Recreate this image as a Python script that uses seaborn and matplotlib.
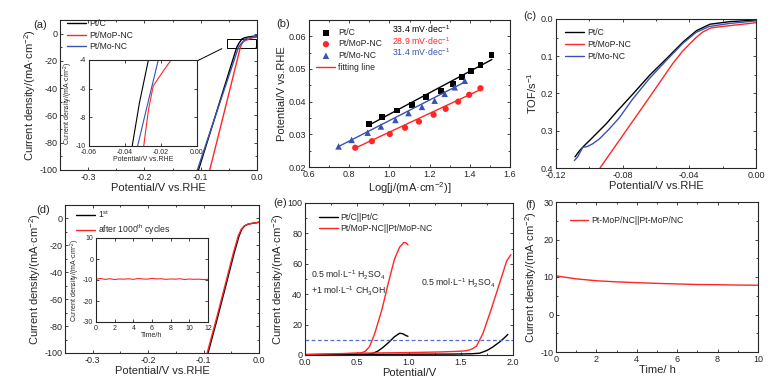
import numpy as np
import pandas as pd
import seaborn as sns
import matplotlib.pyplot as plt
from matplotlib.ticker import MultipleLocator
from matplotlib.patches import Rectangle

# ---- colours / labels
RED = "#ff2626"
BLUE = "#3a53b0"
CD = "Current density/(mA·cm$^{-2}$)"
RHE = "Potential/V vs.RHE"

# ---- (a) HER polarisation curves (also used for the inset)
a_ptc_x = [-0.104, -0.09, -0.07, -0.05, -0.036, -0.032, -0.027, -0.022, -0.015, -0.008, 0.0]
a_ptc_y = [-100, -81.5, -55, -28.5, -10, -7, -4, -3, -2.4, -2.0, -1.6]
a_mop_x = [-0.084, -0.07, -0.05, -0.035, -0.0296, -0.027, -0.0243, -0.0178, -0.0144, -0.008, 0.0]
a_mop_y = [-100, -77, -44, -19, -10, -7.5, -5.8, -4.6, -4, -3, -2.5]
a_mo_x = [-0.106, -0.09, -0.07, -0.05, -0.033, -0.0273, -0.0215, -0.016, -0.01, -0.005, 0.0]
a_mo_y = [-100, -80.3, -55.6, -31, -10, -7, -4, -3.2, -2.7, -2.3, -2.0]

# ---- (b) Tafel plots
b_ptc_x = [0.897, 0.963, 1.038, 1.112, 1.18, 1.255, 1.317, 1.363, 1.408, 1.453, 1.508]
b_ptc_y = [0.0332, 0.0353, 0.0373, 0.0391, 0.0414, 0.0434, 0.0454, 0.0475, 0.0494, 0.0513, 0.0544]
b_mop_x = [0.83, 0.913, 1.002, 1.078, 1.147, 1.22, 1.28, 1.342, 1.397, 1.453]
b_mop_y = [0.0259, 0.0279, 0.0301, 0.032, 0.0339, 0.036, 0.0378, 0.04, 0.0421, 0.0441]
b_mo_x = [0.747, 0.812, 0.892, 0.958, 1.03, 1.095, 1.162, 1.225, 1.275, 1.325, 1.375]
b_mo_y = [0.0263, 0.0283, 0.0305, 0.0324, 0.0344, 0.0365, 0.0384, 0.0403, 0.0424, 0.0444, 0.0464]
fit_ptc_x, fit_ptc_y = [0.895, 1.51], [0.0327, 0.0529]
fit_mop_x, fit_mop_y = [0.83, 1.45], [0.0258, 0.0436]
fit_mo_x, fit_mo_y = [0.745, 1.375], [0.0262, 0.0460]
tafel_slopes = ["33.4 mV·dec$^{-1}$", "28.9 mV·dec$^{-1}$", "31.4 mV·dec$^{-1}$"]

# ---- (c) TOF
c_ptc_x = [-0.1086, -0.1056, -0.1026, -0.0996, -0.0956, -0.0896, -0.0836, -0.0736, -0.0636,
           -0.0536, -0.0436, -0.0356, -0.0276, -0.0156, 0.0]
c_ptc_y = [0.37, 0.352, 0.338, 0.325, 0.307, 0.28, 0.249, 0.2, 0.15, 0.106, 0.061, 0.031,
           0.014, 0.007, 0.003]
c_mo_x = [-0.109, -0.107, -0.104, -0.101, -0.098, -0.094, -0.088, -0.082, -0.074, -0.064,
          -0.054, -0.044, -0.036, -0.028, -0.016, 0.0]
c_mo_y = [0.38, 0.37, 0.345, 0.342, 0.335, 0.322, 0.295, 0.265, 0.215, 0.16, 0.112, 0.066,
          0.036, 0.02, 0.012, 0.005]
c_mop_x = [-0.0936, -0.08, -0.065, -0.05, -0.044, -0.04, -0.036, -0.032, -0.027, -0.02, -0.01, 0.0]
c_mop_y = [0.4, 0.313, 0.217, 0.12, 0.086, 0.068, 0.05, 0.035, 0.024, 0.02, 0.015, 0.01]

# ---- (d) stability
d_first_x = [-0.092, -0.075, -0.059, -0.045, -0.036, -0.031, -0.026, -0.02, -0.012, -0.005, 0.0]
d_first_y = [-100, -74, -48.5, -26, -13, -8, -5.5, -4.3, -3.6, -3.2, -2.8]
d_after_x = [-0.0935, -0.0765, -0.0605, -0.0465, -0.0375, -0.032, -0.0265, -0.02, -0.012, -0.005, 0.0]
d_after_y = [-100, -74, -48.5, -26, -13, -8, -5.5, -4.3, -3.6, -3.2, -2.8]
d_ins_t = [0, 0.5, 1, 1.5, 2, 2.5, 3, 3.5, 4, 4.5, 5, 5.5, 6, 6.5, 7, 7.5, 8, 8.5, 9,
           9.5, 10, 10.5, 11, 11.5, 12]
d_ins_j = [-9.6, -9.3, -9.7, -9.4, -9.8, -9.5, -9.6, -9.4, -9.7, -9.3, -9.5, -9.6, -9.2,
           -9.5, -9.4, -9.7, -9.5, -9.6, -9.4, -9.8, -9.5, -9.7, -9.6, -9.8, -9.7]

# ---- (e) overall water / methanol electrolysis
e_red1_x = [0, 0.2, 0.4, 0.5, 0.55, 0.58, 0.62, 0.67, 0.74, 0.80, 0.86, 0.91, 0.95, 0.97, 0.99]
e_red1_y = [0.3, 0.6, 0.9, 1.2, 1.6, 2.5, 5.5, 14, 30, 47, 63, 71, 74, 73.8, 72.5]
e_red2_x = [0, 0.5, 1.0, 1.3, 1.5, 1.55, 1.59, 1.62, 1.65, 1.71, 1.79, 1.87, 1.94, 1.98]
e_red2_y = [0.3, 1.2, 1.6, 2.0, 2.5, 2.8, 3.5, 4.5, 6, 14, 30, 47, 62, 66]
e_blk1_x = [0, 0.3, 0.5, 0.6, 0.65, 0.7, 0.75, 0.8, 0.86, 0.91, 0.94, 0.97, 0.99]
e_blk1_y = [0.1, 0.2, 0.3, 0.5, 1.1, 2.5, 5, 8, 12, 14.3, 14, 12.8, 12.3]
e_blk2_x = [0, 0.5, 1.0, 1.4, 1.6, 1.68, 1.75, 1.8, 1.87, 1.92, 1.95]
e_blk2_y = [0.1, 0.3, 0.5, 0.6, 0.8, 1.2, 3, 5, 8.5, 11.5, 13.5]
e_ref_j = 10

# ---- (f) chronoamperometry
f_t = [0, 0.5, 1, 2, 3, 4, 5, 6, 7, 8, 9, 10]
f_j = [10.3, 9.9, 9.5, 9.0, 8.7, 8.5, 8.3, 8.15, 8.0, 7.95, 7.85, 7.8]

sns.set_theme(style="ticks")
plt.rcParams["font.family"] = ["Liberation Sans", "DejaVu Sans"]
plt.rcParams["mathtext.default"] = "regular"
plt.rcParams["axes.unicode_minus"] = False

W, H = 781, 383
fig = plt.figure(figsize=(W / 100, H / 100), dpi=100)


def box(l, t, r, b):
    return [l / W, 1 - b / H, (r - l) / W, (b - t) / H]


def style(ax, xmaj, ymaj, size=6.5, lab=8):
    ax.xaxis.set_major_locator(MultipleLocator(xmaj))
    ax.xaxis.set_minor_locator(MultipleLocator(xmaj / 2))
    ax.yaxis.set_major_locator(MultipleLocator(ymaj))
    ax.yaxis.set_minor_locator(MultipleLocator(ymaj / 2))
    ax.tick_params(which="both", direction="in", top=True, right=True,
                   labelsize=size, width=0.6, pad=2)
    ax.tick_params(which="major", length=2.5)
    ax.tick_params(which="minor", length=1.3)
    for s in ax.spines.values():
        s.set_linewidth(0.8)
    ax.xaxis.label.set_size(lab)
    ax.yaxis.label.set_size(lab)


def line(ax, x, y, color, label=None, lw=1.0, **kw):
    sns.lineplot(x=x, y=y, ax=ax, color=color, label=label, lw=lw,
                 sort=False, estimator=None, **kw)


def leg(ax, anchor, size=6.2, **kw):
    ax.legend(loc="upper left", bbox_to_anchor=anchor, frameon=False, fontsize=size,
              handlelength=2.2, handletextpad=0.3, labelspacing=0.3, borderaxespad=0, **kw)


def panel(x, y, s):
    fig.text(x / W, 1 - y / H, s, ha="center", va="center", fontsize=8)


# (a)
ax = fig.add_axes(box(60, 20, 257, 170))
line(ax, a_ptc_x, a_ptc_y, "black", "Pt/C")
line(ax, a_mop_x, a_mop_y, RED, "Pt/MoP-NC")
line(ax, a_mo_x, a_mo_y, BLUE, "Pt/Mo-NC")
ax.set_xlim(-0.35, 0.0)
ax.set_ylim(-100, 10)
style(ax, 0.1, 20)
ax.set_xlabel(RHE, labelpad=1)
ax.set_ylabel(CD, labelpad=1)
leg(ax, (0.02, 1.03))
ax.add_patch(Rectangle((-0.053, -10.5), 0.051, 6.6, fill=False, lw=0.7, ec="black"))
ax.annotate("", xy=(-0.138, -26.5), xytext=(-0.058, -10.1),
            arrowprops=dict(arrowstyle="-|>", color="black", lw=0.7, mutation_scale=6))
panel(40, 25, "(a)")

ia = fig.add_axes(box(89, 60, 197, 146))
line(ia, a_ptc_x, a_ptc_y, "black", lw=0.8)
line(ia, a_mop_x, a_mop_y, RED, lw=0.8)
line(ia, a_mo_x, a_mo_y, BLUE, lw=0.8)
ia.set_xlim(-0.06, 0.0)
ia.set_ylim(-10, -4)
style(ia, 0.02, 2, size=5, lab=5)
ia.tick_params(which="minor", length=0)
ia.set_xlabel(RHE, labelpad=0.5)
ia.set_ylabel(CD, labelpad=0.5)

# (b)
ax = fig.add_axes(box(309, 20, 510, 167))
sns.scatterplot(x=b_ptc_x, y=b_ptc_y, ax=ax, color="black", marker="s", s=18,
                edgecolor="none", label="Pt/C")
sns.scatterplot(x=b_mop_x, y=b_mop_y, ax=ax, color=RED, marker="o", s=20,
                edgecolor="none", label="Pt/MoP-NC")
sns.scatterplot(x=b_mo_x, y=b_mo_y, ax=ax, color=BLUE, marker="^", s=22,
                edgecolor="none", label="Pt/Mo-NC")
line(ax, fit_ptc_x, fit_ptc_y, "black")
line(ax, fit_mop_x, fit_mop_y, RED, "fitting line")
line(ax, fit_mo_x, fit_mo_y, BLUE)
ax.set_xlim(0.6, 1.6)
ax.set_ylim(0.02, 0.065)
style(ax, 0.2, 0.01)
ax.set_xlabel("Log[j/(mA·cm$^{-2}$)]", labelpad=1)
ax.set_ylabel("Potential/V vs.RHE", labelpad=1)
leg(ax, (0.02, 0.97), markerscale=1.0)
for i, (txt, col) in enumerate(zip(tafel_slopes, ["black", RED, BLUE])):
    ax.text(0.415, 0.935 - i * 0.078, txt, color=col, fontsize=6.3,
            transform=ax.transAxes, va="center")
panel(283, 24, "(b)")

# (c)
ax = fig.add_axes(box(556, 19, 756, 168))
line(ax, c_ptc_x, c_ptc_y, "black", "Pt/C")
line(ax, c_mop_x, c_mop_y, RED, "Pt/MoP-NC")
line(ax, c_mo_x, c_mo_y, BLUE, "Pt/Mo-NC")
ax.set_xlim(-0.12, 0.0)
ax.set_ylim(0.4, 0.0)
style(ax, 0.04, 0.1)
ax.set_xlabel(RHE, labelpad=1)
ax.set_ylabel("TOF/s$^{-1}$", labelpad=1)
leg(ax, (0.03, 0.96))
panel(530, 16, "(c)")

# (d)
ax = fig.add_axes(box(65, 205, 259, 353))
line(ax, d_first_x, d_first_y, "black", "1$^{st}$")
line(ax, d_after_x, d_after_y, RED, "after 1000$^{th}$ cycles")
ax.set_xlim(-0.35, 0.0)
ax.set_ylim(-100, 10)
style(ax, 0.1, 20)
ax.set_xlabel(RHE, labelpad=1)
ax.set_ylabel(CD, labelpad=1)
leg(ax, (0.04, 1.0))
panel(43, 210, "(d)")

idd = fig.add_axes(box(96, 238, 208, 322))
line(idd, d_ins_t, d_ins_j, RED, lw=0.8)
idd.set_xlim(0, 12)
idd.set_ylim(-30, 10)
style(idd, 2, 10, size=5, lab=5)
idd.tick_params(which="minor", length=0)
idd.set_xlabel("Time/h", labelpad=0.5)
idd.set_ylabel(CD, labelpad=0.5)

# (e)
ax = fig.add_axes(box(305, 203, 513, 355))
line(ax, e_blk1_x, e_blk1_y, "black", "Pt/C||Pt/C")
line(ax, e_red1_x, e_red1_y, RED, "Pt/MoP-NC||Pt/MoP-NC")
line(ax, e_blk2_x, e_blk2_y, "black")
line(ax, e_red2_x, e_red2_y, RED)
ax.axhline(e_ref_j, color="#5a6ac8", lw=0.9, ls=(0, (3, 2)))
ax.set_xlim(0, 2)
ax.set_ylim(0, 100)
style(ax, 0.5, 20)
ax.set_xlabel("Potential/V", labelpad=1)
ax.set_ylabel(CD, labelpad=1)
leg(ax, (0.05, 0.96))
ax.text(0.06, 52.5, "0.5 mol·L$^{-1}$ H$_2$SO$_4$", fontsize=6.3, va="center")
ax.text(0.06, 42, "+1 mol·L$^{-1}$ CH$_3$OH", fontsize=6.3, va="center")
ax.text(1.12, 47, "0.5 mol·L$^{-1}$ H$_2$SO$_4$", fontsize=6.3, va="center")
panel(280, 203, "(e)")

# (f)
ax = fig.add_axes(box(556, 202, 758, 352))
line(ax, f_t, f_j, RED, "Pt-MoP/NC||Pt-MoP/NC")
ax.set_xlim(0, 10)
ax.set_ylim(-10, 30)
style(ax, 2, 10)
ax.set_xlabel("Time/ h", labelpad=1)
ax.set_ylabel(CD, labelpad=1)
leg(ax, (0.05, 0.93))
panel(531, 205, "(f)")

fig.savefig("out.png", dpi=100)
